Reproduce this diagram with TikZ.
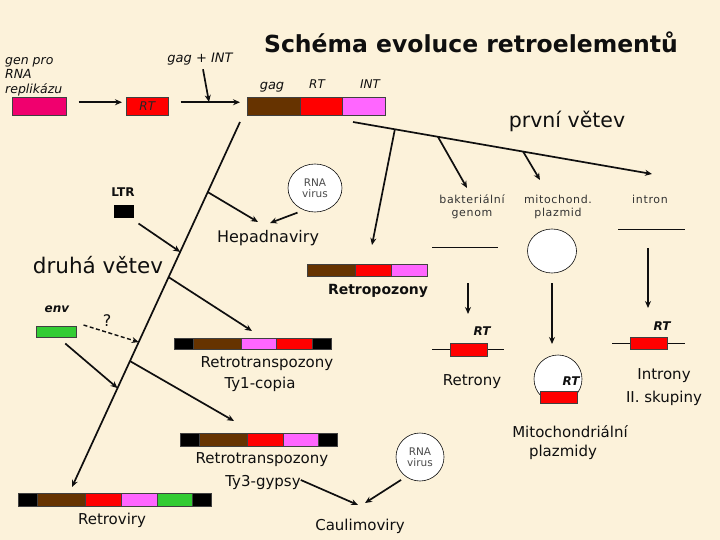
\documentclass[tikz,border=0pt]{standalone}
\usepackage{fontspec}
\setmainfont{DejaVu Sans}
\usetikzlibrary{arrows.meta,calc,shapes.geometric}
\definecolor{bg}{RGB}{252,242,218}
\definecolor{cbrown}{RGB}{102,51,0}
\definecolor{cred}{RGB}{255,0,0}
\definecolor{cpink}{RGB}{255,102,255}
\definecolor{cgreen}{RGB}{51,204,51}
\definecolor{cmag}{RGB}{240,0,110}
\definecolor{ink}{RGB}{15,15,15}
\newcommand\segbox[6]{\node[seg, fill=#2, minimum width=#5pt, minimum height=#6pt] (#1) at (#3,#4) {};}
\newcommand\fs[1]{\fontsize{#1}{#1}\selectfont}
\begin{document}
\begin{tikzpicture}[x=1pt,y=-1pt,
  seg/.style={draw=black!75, line width=0.5pt, inner sep=0pt, anchor=north west},
  arr/.style={-{Stealth[length=7pt,width=6pt]}, line width=1.7pt, draw=ink},
  thinline/.style={line width=0.9pt, draw=ink},
  txt/.style={inner sep=0pt, text=ink, align=center},
  lite/.style={txt, text=black!80, font=\fs{11}\addfontfeatures{LetterSpace=6}},
  bubble/.style={ellipse, draw=ink, line width=0.6pt, fill=white, inner sep=0pt, align=center, font=\fs{10.5}, text=black!70}
]
\fill[bg] (0,0) rectangle (720,540);
\useasboundingbox (0,0) rectangle (720,540);

% title
\node[txt, font=\bfseries\fs{23.5}] (title) at (471,42) {Schéma evoluce retroelementů};

% top row
\node[txt, anchor=north west, align=left, font=\itshape\fontsize{12.5}{14.5}\selectfont] (genpro) at (5,57) {gen pro\\RNA\\replikázu};
\segbox{gen}{cmag}{12}{97}{54}{18}
\segbox{rt0}{cred}{126}{97}{42}{18}
\node[txt, font=\itshape\fs{12}, text=black!85] (rt0l) at (rt0.center) {RT};
\segbox{g}{cbrown}{247}{97}{53}{18}
\segbox{r}{cred}{300}{97}{42}{18}
\segbox{i}{cpink}{342}{97}{43}{18}
\node[txt, font=\itshape\fs{13}] (gl) at (272,87) {gag};
\node[txt, font=\itshape\fs{12}] (rl) at (317,84) {RT};
\node[txt, font=\itshape\fs{12}] (il) at (370,84) {INT};
\node[txt, font=\itshape\fs{13}] (gagint) at (200,59) {gag + INT};
\coordinate (j1) at (209,102);
\draw[arr] ($(gen.east)+(12,-4)$) -- ($(rt0.west)+(-4,-4)$);
\draw[arr] ($(rt0.east)+(12,-4)$) -- ($(g.west)+(-7,-4)$);
\draw[arr] ($(gagint.south)+(3,4)$) -- (j1);

% long line (second branch)
\coordinate (Ls) at (240,122);
\coordinate (Le) at (72,487);
\draw[arr] (Ls) -- (Le);
\coordinate (Lh) at ($(Ls)!0.192!(Le)$);
\coordinate (Lltr) at ($(Ls)!0.356!(Le)$);
\coordinate (Lty1) at ($(Ls)!0.425!(Le)$);
\coordinate (Lenvd) at ($(Ls)!0.603!(Le)$);
\coordinate (Lty3) at ($(Ls)!0.655!(Le)$);
\coordinate (Lenv) at ($(Ls)!0.729!(Le)$);

\node[txt, font=\fs{21.5}] (druha) at (98,265) {druhá větev};

% Hepadnaviry
\node[txt, font=\fs{16}] (hep) at (268,238) {Hepadnaviry};
\node[bubble, minimum width=54pt, minimum height=48pt] (rna1) at (315,188) {RNA\\virus};
\coordinate (hepL) at (258,222);
\coordinate (hepR) at (270,223);
\draw[arr] (Lh) -- (hepL);
\draw[arr] ($(rna1.240)+(-5,3)$) -- (hepR);

% LTR
\node[txt, font=\bfseries\fs{12}] (ltrl) at (123,192) {LTR};
\node[seg, fill=black, draw=black, minimum width=19pt, minimum height=12pt] (ltr) at (114,205) {};
\draw[arr] ($(ltr.south east)+(5,6)$) -- (Lltr);

% env
\node[txt, font=\bfseries\itshape\fs{12}] (envl) at (57,309) {env};
\segbox{env}{cgreen}{36}{326}{40}{11}
\node[txt, font=\fs{16}] (q) at (107,321) {?};
\draw[arr, dash pattern=on 4pt off 2.5pt, line width=1.4pt] ($(env.north east)+(7,-1)$) -- (Lenvd);
\draw[arr] ($(env.south)+(9,6)$) -- (Lenv);

% Ty1-copia
\segbox{a1}{black}{174}{338}{19}{11}
\segbox{a2}{cbrown}{193}{338}{48}{11}
\segbox{a3}{cpink}{241}{338}{35}{11}
\segbox{a4}{cred}{276}{338}{36}{11}
\segbox{a5}{black}{312}{338}{19}{11}
\node[txt, font=\fs{15}] (ty1a) at (267,364) {Retrotranspozony};
\node[txt, font=\fs{15}] (ty1b) at (260,384) {Ty1-copia};
\coordinate (ty1tip) at (252,331);
\draw[arr] (Lty1) -- (ty1tip);

% Ty3-gypsy
\segbox{b1}{black}{180}{433}{19}{13}
\segbox{b2}{cbrown}{199}{433}{48}{13}
\segbox{b3}{cred}{247}{433}{36}{13}
\segbox{b4}{cpink}{283}{433}{35}{13}
\segbox{b5}{black}{318}{433}{19}{13}
\node[txt, font=\fs{15}] (ty3a) at (262,460) {Retrotranspozony};
\node[txt, font=\fs{15}] (ty3b) at (263,482) {Ty3-gypsy};
\coordinate (ty3tip) at (234,421);
\draw[arr] (Lty3) -- (ty3tip);

% Retroviry
\segbox{c1}{black}{18}{493}{19}{13}
\segbox{c2}{cbrown}{37}{493}{48}{13}
\segbox{c3}{cred}{85}{493}{36}{13}
\segbox{c4}{cpink}{121}{493}{36}{13}
\segbox{c5}{cgreen}{157}{493}{35}{13}
\segbox{c6}{black}{192}{493}{19}{13}
\node[txt, font=\fs{15}] (rv) at (112,520) {Retroviry};

% Caulimoviry
\node[txt, font=\fs{15}] (caul) at (360,526) {Caulimoviry};
\node[bubble, minimum size=48pt] (rna2) at (420,457) {RNA\\virus};
\coordinate (caulL) at (358,505);
\coordinate (caulR) at (365,503);
\draw[arr] ($(ty3b.east)+(0,-2)$) -- (caulL);
\draw[arr] ($(rna2.235)+(-5,3)$) -- (caulR);

% first branch
\coordinate (Fs) at (353,122);
\coordinate (Fe) at (652,174);
\draw[arr] (Fs) -- (Fe);
\coordinate (Frp) at ($(Fs)!0.140!(Fe)$);
\coordinate (Fbg) at ($(Fs)!0.284!(Fe)$);
\coordinate (Fmt) at ($(Fs)!0.569!(Fe)$);
\node[txt, font=\fs{20.5}] (prvni) at (567,121) {první větev};

% Retropozony
\segbox{d1}{cbrown}{307}{264}{48}{12}
\segbox{d2}{cred}{355}{264}{36}{12}
\segbox{d3}{cpink}{391}{264}{36}{12}
\node[txt, font=\bfseries\fs{14}] (rpz) at (378,291) {Retropozony};
\coordinate (rptip) at (372,245);
\draw[arr] (Frp) -- (rptip);

% bacterial genome -> Retrony
\node[lite] (bak) at (472,207) {bakteriální\\[2pt]genom};
\coordinate (bgtip) at (467,188);
\draw[arr] (Fbg) -- (bgtip);
\coordinate (gen1) at (432,247);
\coordinate (gen2) at (498,247);
\draw[thinline] (gen1) -- (gen2);
\coordinate (ra1) at (468,283);
\coordinate (ra2) at (468,314);
\draw[arr] (ra1) -- (ra2);
\coordinate (rn1) at (432,349);
\coordinate (rn2) at (504,349);
\draw[thinline] (rn1) -- (rn2);
\segbox{rtn}{cred}{450}{343}{37}{13}
\node[txt, font=\bfseries\itshape\fs{12}] (rtnl) at (482,331) {RT};
\node[txt, font=\fs{15}] (retrony) at (472,382) {Retrony};

% mitochondrial plasmid
\node[lite] (mit) at (558,207) {mitochond.\\[2pt]plazmid};
\coordinate (mttip) at (540,180);
\draw[arr] (Fmt) -- (mttip);
\node[ellipse, draw=ink, line width=0.6pt, fill=white, minimum width=49pt, minimum height=44pt] (mc) at (552,251) {};
\coordinate (ma1) at (552,283);
\coordinate (ma2) at (552,344);
\draw[arr] (ma1) -- (ma2);
\node[circle, draw=ink, line width=0.6pt, fill=white, minimum size=48pt, inner sep=0pt] (mc2) at (558,379) {};
\segbox{rtm}{cred}{540}{391}{37}{12}
\node[txt, font=\bfseries\itshape\fs{12}] (rtml) at (571,381) {RT};
\node[txt, font=\fs{15}] (mita) at (570,432) {Mitochondriální};
\node[txt, font=\fs{15}] (mitb) at (563,452) {plazmidy};

% intron
\node[lite] (intr) at (650,199) {intron};
\coordinate (in1) at (618,229);
\coordinate (in2) at (685,229);
\draw[thinline] (in1) -- (in2);
\coordinate (ia1) at (648,248);
\coordinate (ia2) at (648,308);
\draw[arr] (ia1) -- (ia2);
\coordinate (il1) at (612,343);
\coordinate (il2) at (685,343);
\draw[thinline] (il1) -- (il2);
\segbox{rti}{cred}{630}{337}{37}{12}
\node[txt, font=\bfseries\itshape\fs{12}] (rtil) at (662,326) {RT};
\node[txt, font=\fs{15}] (introny) at (664,376) {Introny};
\node[txt, font=\fs{15}] (skup) at (664,398) {II. skupiny};
\end{tikzpicture}
\end{document}
